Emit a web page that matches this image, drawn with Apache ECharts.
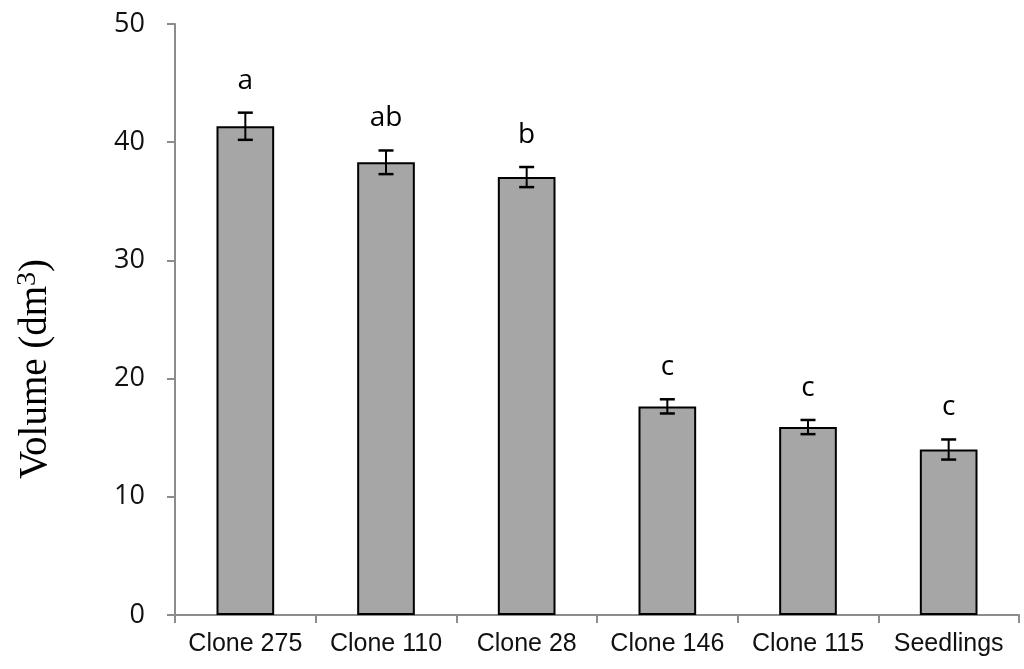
<!DOCTYPE html>
<html><head><meta charset="utf-8">
<script src="https://cdn.jsdelivr.net/npm/echarts@6/dist/echarts.min.js"></script>
<style>html,body{margin:0;padding:0;background:#fff}#c{width:1024px;height:669px}</style>
</head><body><div id="c"></div>
<script>
const categories = ['Clone 275', 'Clone 110', 'Clone 28', 'Clone 146', 'Clone 115', 'Seedlings'];
const volumes = [41.35, 38.3, 37.05, 17.65, 15.9, 14.0];
const errors = [1.15, 1.0, 0.85, 0.6, 0.6, 0.85];
const letters = ['a', 'ab', 'b', 'c', 'c', 'c'];
const yTicks = [0, 10, 20, 30, 40, 50];

const errData = categories.map((c, i) => [i, volumes[i], errors[i], letters[i]]);

const chart = echarts.init(document.getElementById('c'), null, {renderer: 'canvas'});
chart.setOption({
  animation: false,
  grid: {left: 175, right: 5, top: 24, bottom: 54, containLabel: false},
  graphic: [{
    type: 'text', x: 36, y: 369, rotation: Math.PI / 2,
    style: {
      text: 'Volume (dm{s|3})', align: 'center', verticalAlign: 'middle',
      font: '39px "Liberation Serif", "Times New Roman", serif', fill: '#000',
      rich: {s: {font: '28px "Liberation Serif", serif', fill: '#000', verticalAlign: 'top', padding: [0, 0, 16, 0]}}
    }
  }],
  xAxis: {
    type: 'category', data: categories,
    axisLine: {lineStyle: {color: '#8c8c8c', width: 2}},
    axisTick: {show: true, length: 8, lineStyle: {color: '#8c8c8c', width: 2}},
    axisLabel: {color: '#111', fontSize: 25, fontFamily: 'Liberation Sans, Arial, sans-serif', margin: 17,
      interval: 0, hideOverlap: false}
  },
  yAxis: {
    type: 'value', min: yTicks[0], max: yTicks[yTicks.length - 1], interval: 10,
    splitLine: {show: false},
    axisLine: {show: true, lineStyle: {color: '#8c8c8c', width: 2}},
    axisTick: {show: true, length: 8, lineStyle: {color: '#8c8c8c', width: 2}},
    axisLabel: {color: '#111', fontSize: 27, fontFamily: 'Open Sans, Lato, sans-serif', margin: 30}
  },
  series: [
    {
      type: 'bar', data: volumes, barWidth: '41%',
      itemStyle: {color: '#a6a6a6', borderColor: '#000', borderWidth: 2}
    },
    {
      type: 'custom', data: errData, z: 10,
      renderItem: function (params, api) {
        const x = api.value(0), v = api.value(1), e = api.value(2);
        const top = api.coord([x, v + e]);
        const bot = api.coord([x, v - e]);
        const cap = 7.5;
        return {
          type: 'group',
          children: [
            {type: 'line', shape: {x1: top[0], y1: top[1], x2: bot[0], y2: bot[1]}, style: {stroke: '#000', lineWidth: 2}},
            {type: 'line', shape: {x1: top[0] - cap, y1: top[1], x2: top[0] + cap, y2: top[1]}, style: {stroke: '#000', lineWidth: 2.5}},
            {type: 'line', shape: {x1: bot[0] - cap, y1: bot[1], x2: bot[0] + cap, y2: bot[1]}, style: {stroke: '#000', lineWidth: 2.5}},
            {type: 'text', style: {text: api.value(3), x: top[0], y: top[1] - 18, align: 'center', verticalAlign: 'bottom',
              font: '28px "Open Sans", Lato, sans-serif', fill: '#000'}}
          ]
        };
      }
    }
  ]
});
</script></body></html>
